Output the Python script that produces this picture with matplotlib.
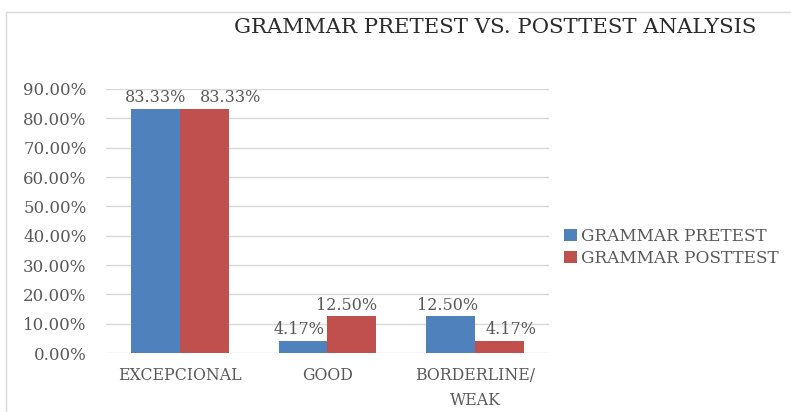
import numpy as np
import matplotlib.pyplot as plt
from matplotlib.patches import Rectangle
from matplotlib.ticker import PercentFormatter

categories = ["EXCEPCIONAL", "GOOD", "BORDERLINE/\nWEAK"]
pretest = [83.33, 4.17, 12.50]
posttest = [83.33, 12.50, 4.17]
series_names = ["GRAMMAR PRETEST", "GRAMMAR POSTTEST"]

blue = "#4f81bd"
red = "#c0504d"
text_gray = "#595959"
serif = "DejaVu Serif"

fig = plt.figure(figsize=(7.91, 4.12), dpi=100)
ax = fig.add_axes([0.134, 0.143, 0.560, 0.641])

# light chart-area border
fig.patches.append(Rectangle((6 / 791, -0.01), 1.0, 1.0 - 12 / 412 + 0.01,
                             transform=fig.transFigure, fill=False,
                             edgecolor="#d9d9d9", linewidth=1.0))

x = np.arange(len(categories))
w = 0.33
b1 = ax.bar(x - w / 2, pretest, w, color=blue, label=series_names[0], zorder=3)
b2 = ax.bar(x + w / 2, posttest, w, color=red, label=series_names[1], zorder=3)

# excel nudges labels sideways so they don't collide (points)
nudge = {0: [0, -3, -2], 1: [19, -4, 8]}
for i, bars in enumerate((b1, b2)):
    for j, r in enumerate(bars):
        ax.annotate(f"{r.get_height():.2f}%",
                    (r.get_x() + r.get_width() / 2, r.get_height()),
                    xytext=(nudge[i][j], 2), textcoords="offset points",
                    ha="center", va="bottom", fontsize=11.5, color=text_gray,
                    family=serif, zorder=4)

ax.set_xlim(-0.5, 2.5)
ax.set_ylim(0, 90)
ax.set_yticks(np.arange(0, 91, 10))
ax.yaxis.set_major_formatter(PercentFormatter(decimals=2))
ax.grid(axis="y", color="#d9d9d9", linewidth=1.0, zorder=0)
for s in ax.spines.values():
    s.set_visible(False)
ax.tick_params(length=0, colors=text_gray)
ax.tick_params(axis="y", pad=14)
ax.tick_params(axis="x", pad=10)
ax.set_xticks(x)
ax.set_xticklabels(categories, linespacing=1.6)
for lbl in ax.get_yticklabels():
    lbl.set_fontfamily(serif)
    lbl.set_fontsize(12)
    lbl.set_color(text_gray)
for lbl in ax.get_xticklabels():
    lbl.set_fontfamily(serif)
    lbl.set_fontsize(11.3)
    lbl.set_color(text_gray)

fig.text(0.626, 0.934, "GRAMMAR PRETEST VS. POSTTEST ANALYSIS", ha="center",
         va="center", fontsize=15.3, color="#2b2b2b", family=serif)

leg = ax.legend(loc="center left", bbox_to_anchor=(1.0, 0.40), frameon=False,
                handlelength=0.75, handleheight=0.75, handletextpad=0.25,
                labelspacing=0.3, prop={"family": serif, "size": 12.2})
for t in leg.get_texts():
    t.set_color(text_gray)

fig.savefig("out.png", dpi=100)
